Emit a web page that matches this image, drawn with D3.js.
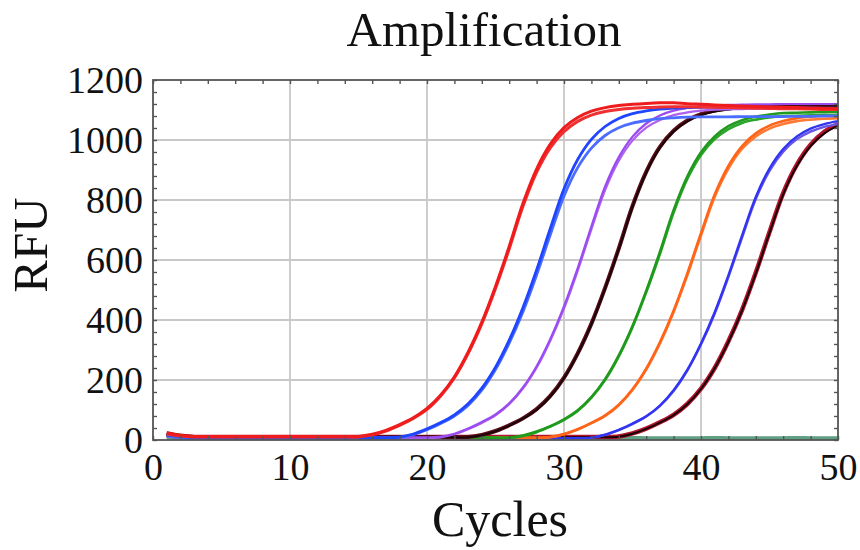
<!DOCTYPE html>
<html lang="en">
<head>
<meta charset="utf-8">
<title>Amplification</title>
<script src="https://cdn.jsdelivr.net/npm/d3@7"></script>
<style>
  body { margin: 0; background: #fff; }
  text { font-family: "Liberation Serif", "Times New Roman", serif; fill: #111; }
</style>
</head>
<body>
<script>
// cycle numbers
var cycles = [1,2,3,4,5,6,7,8,9,10,11,12,13,14,15,16,17,18,19,20,21,22,23,24,25,
  26,27,28,29,30,31,32,33,34,35,36,37,38,39,40,41,42,43,44,45,46,47,48,49,50];

// RFU per cycle (two replicates per dilution)
var red1 = [24,15,12,12,12,12,12,12,12,12,12,12,12,12,12,19,32,51,74,105,150,211,293,393,512,
  645,788,903,986,1041,1075,1096,1108,1115,1119,1122,1124,1124,1121,1119,1117,1115,1113,1112,1110,1109,1108,1107,1106,1105];
var red2 = [20,13,10,10,10,10,10,10,10,10,10,10,10,10,10,17,30,49,72,102,147,207,288,387,505,
  637,778,892,974,1028,1062,1083,1095,1102,1106,1108,1110,1111,1111,1110,1109,1108,1107,1106,1105,1104,1104,1103,1102,1102];
var blue1 = [18,11,8,8,8,8,8,8,8,8,8,8,8,8,8,8,8,10,20,37,58,84,121,173,243,
  333,441,567,705,837,935,1002,1045,1072,1088,1097,1103,1106,1108,1109,1110,1110,1109,1109,1108,1108,1107,1107,1106,1106];
var blue2 = [14,8,6,6,6,6,6,6,6,6,6,6,6,6,6,6,6,8,18,34,55,80,115,166,235,
  323,427,550,684,813,908,973,1015,1041,1056,1065,1071,1074,1076,1077,1077,1077,1078,1078,1078,1078,1079,1079,1080,1080];
var purple1 = [19,12,9,9,9,9,9,9,9,9,9,9,9,9,9,9,9,9,9,9,11,21,38,60,85,
  122,175,246,337,446,573,712,845,943,1011,1055,1082,1098,1107,1113,1116,1117,1118,1119,1119,1120,1120,1120,1120,1120];
var purple2 = [15,9,7,7,7,7,7,7,7,7,7,7,7,7,7,7,7,7,7,7,9,19,36,57,82,
  119,171,241,331,438,564,702,833,931,998,1041,1067,1083,1092,1098,1101,1102,1103,1104,1104,1104,1104,1104,1104,1104];
var maroon1 = [20,13,10,10,10,10,10,10,10,10,10,10,10,10,10,10,10,10,10,10,10,10,10,17,30,
  49,72,103,147,208,289,388,507,639,780,894,977,1031,1065,1086,1098,1105,1109,1111,1112,1113,1114,1114,1115,1115];
var black1 = [17,11,9,9,9,9,9,9,9,9,9,9,9,9,9,9,9,9,9,9,9,9,9,16,29,
  48,71,101,145,206,287,386,505,636,777,891,974,1028,1062,1083,1095,1102,1106,1108,1109,1110,1111,1111,1112,1112];
var green1 = [16,10,8,8,8,8,8,8,8,8,8,8,8,8,8,8,8,8,8,8,8,8,8,8,8,
  8,15,28,46,69,99,143,203,282,380,497,627,766,878,959,1012,1046,1066,1078,1085,1090,1091,1092,1093,1094];
var green2 = [14,9,7,7,7,7,7,7,7,7,7,7,7,7,7,7,7,7,7,7,7,7,7,7,7,
  7,13,26,45,67,97,141,200,279,376,492,620,758,870,950,1003,1036,1057,1068,1075,1080,1081,1082,1083,1084];
var orange1 = [16,10,8,8,8,8,8,8,8,8,8,8,8,8,8,8,8,8,8,8,8,8,8,8,8,
  8,8,8,10,20,36,57,82,118,169,238,326,431,555,689,818,914,980,1022,1048,1063,1073,1078,1081,1083];
var orange2 = [13,9,7,7,7,7,7,7,7,7,7,7,7,7,7,7,7,7,7,7,7,7,7,7,7,
  7,7,7,9,19,35,56,80,116,167,235,322,427,549,682,811,905,971,1012,1038,1053,1063,1068,1071,1073];
var blue3 = [13,8,6,6,6,6,6,6,6,6,6,6,6,6,6,6,6,6,6,6,6,6,6,6,6,
  6,6,6,6,6,6,8,18,34,55,79,115,166,234,322,426,549,682,810,905,970,1012,1038,1053,1063];
var blue4 = [12,7,5,5,5,5,5,5,5,5,5,5,5,5,5,5,5,5,5,5,5,5,5,5,5,
  5,5,5,5,5,5,7,17,33,53,78,113,163,231,318,421,543,675,803,897,961,1003,1028,1044,1053];
var maroon2 = [22,14,10,10,10,10,10,10,10,10,10,10,10,10,10,10,10,10,10,10,10,10,10,10,10,
  10,10,10,10,10,10,10,10,12,22,38,59,84,120,171,240,329,434,558,693,823,918,984,1027,1053];
var black2 = [19,12,9,9,9,9,9,9,9,9,9,9,9,9,9,9,9,9,9,9,9,9,9,9,9,
  9,9,9,9,9,9,9,9,11,21,37,58,83,119,170,239,327,432,555,690,819,914,980,1022,1048];
var ntc = [6,5,5,6,5,5,5,6,5,5,5,5,6,5,5,5,5,6,5,5,5,5,5,6,5,
  5,5,5,6,5,5,5,5,5,6,5,5,5,5,5,6,5,5,5,5,5,6,5,5,5];

var xTicks = [0,10,20,30,40,50];
var yTicks = [0,200,400,600,800,1000,1200];

// drawing order and styles (first drawn = bottom)
var series = [
  { values: ntc,     color: "#5f9f82", width: 4.5 },
  { values: maroon2, color: "#b3142c", width: 4.5 },
  { values: black2,  color: "#1a0306", width: 2 },
  { values: blue4,   color: "#6a55e6", width: 2.4 },
  { values: blue3,   color: "#2f35f0", width: 2.4 },
  { values: orange2, color: "#ff7a35", width: 2.6 },
  { values: orange1, color: "#ff6418", width: 2.6 },
  { values: green2,  color: "#2aa52a", width: 2.6 },
  { values: green1,  color: "#1f9a1c", width: 2.6 },
  { values: maroon1, color: "#5a0c18", width: 4 },
  { values: black1,  color: "#1c0508", width: 2 },
  { values: purple2, color: "#b060f0", width: 2.2 },
  { values: purple1, color: "#9a4cf0", width: 2.2 },
  { values: blue2,   color: "#4a6cff", width: 2.8 },
  { values: blue1,   color: "#1f45ff", width: 2.8 },
  { values: red2,    color: "#f03030", width: 3 },
  { values: red1,    color: "#ee1c1c", width: 3 }
];

var w = 860, h = 550;
var pLeft = 153, pRight = 838, pTop = 80, pBottom = 440;

var svg = d3.select("body").append("svg")
  .attr("width", w)
  .attr("height", h);

var x = d3.scaleLinear().domain([0, 50]).range([pLeft, pRight]);
var y = d3.scaleLinear().domain([0, 1200]).range([pBottom, pTop]);

// grid
svg.append("g")
  .selectAll("line")
  .data(xTicks.slice(1, -1))
  .enter().append("line")
  .attr("x1", function(d) { return x(d); })
  .attr("x2", function(d) { return x(d); })
  .attr("y1", pTop).attr("y2", pBottom)
  .style("stroke", "#c8c8c8").style("stroke-width", 1.8);
svg.append("g")
  .selectAll("line")
  .data(yTicks.slice(1, -1))
  .enter().append("line")
  .attr("y1", function(d) { return y(d); })
  .attr("y2", function(d) { return y(d); })
  .attr("x1", pLeft).attr("x2", pRight)
  .style("stroke", "#c8c8c8").style("stroke-width", 1.8);

// curves
svg.append("clipPath").attr("id", "plot")
  .append("rect").attr("x", pLeft).attr("y", pTop)
  .attr("width", pRight - pLeft).attr("height", pBottom - pTop);

var line = d3.line()
  .x(function(d, i) { return x(cycles[i]); })
  .y(function(d) { return y(d); })
  .curve(d3.curveCatmullRom.alpha(0.5));

svg.append("g").attr("clip-path", "url(#plot)")
  .selectAll("path")
  .data(series)
  .enter().append("path")
  .attr("d", function(d) { return line(d.values); })
  .style("fill", "none")
  .style("stroke", function(d) { return d.color; })
  .style("stroke-width", function(d) { return d.width; })
  .style("stroke-linejoin", "round");

// inward ticks on all four sides
var xMinor = d3.range(0, 51, 2);
var yMinor = d3.range(0, 1201, 40);
function tickStyle(g) {
  g.select(".domain").remove();
  g.selectAll("line").style("stroke", "#555").style("stroke-width", 1.4);
  g.selectAll("text").remove();
}
svg.append("g").attr("transform", "translate(0," + pBottom + ")")
  .call(d3.axisBottom(x).tickValues(xMinor).tickSize(-4)).call(tickStyle);
svg.append("g").attr("transform", "translate(0," + pTop + ")")
  .call(d3.axisTop(x).tickValues(xMinor).tickSize(-4)).call(tickStyle);
svg.append("g").attr("transform", "translate(" + pLeft + ",0)")
  .call(d3.axisLeft(y).tickValues(yMinor).tickSize(-4)).call(tickStyle);
svg.append("g").attr("transform", "translate(" + pRight + ",0)")
  .call(d3.axisRight(y).tickValues(yMinor).tickSize(-4)).call(tickStyle);

// frame
svg.append("rect")
  .attr("x", pLeft).attr("y", pTop)
  .attr("width", pRight - pLeft).attr("height", pBottom - pTop)
  .style("fill", "none").style("stroke", "#555").style("stroke-width", 1.8);

// tick labels
var xAxis = svg.append("g").attr("transform", "translate(0," + pBottom + ")")
  .call(d3.axisBottom(x).tickValues(xTicks).tickFormat(d3.format("d")).tickSize(0).tickPadding(13));
xAxis.select(".domain").remove();
xAxis.selectAll("text")
  .style("font-family", "'Liberation Serif', 'Times New Roman', serif")
  .style("font-size", "38px").style("fill", "#111")
  .attr("dy", "0.71em");

var yAxis = svg.append("g").attr("transform", "translate(" + pLeft + ",0)")
  .call(d3.axisLeft(y).tickValues(yTicks).tickFormat(d3.format("d")).tickSize(0).tickPadding(10));
yAxis.select(".domain").remove();
yAxis.selectAll("text")
  .style("font-family", "'Liberation Serif', 'Times New Roman', serif")
  .style("font-size", "38px").style("fill", "#111");

// titles
svg.append("text")
  .attr("x", 484).attr("y", 46)
  .attr("text-anchor", "middle")
  .style("font-size", "49px")
  .text("Amplification");

svg.append("text")
  .attr("x", 500).attr("y", 536)
  .attr("text-anchor", "middle")
  .style("font-size", "50px")
  .text("Cycles");

svg.append("text")
  .attr("transform", "translate(47,245) rotate(-90)")
  .attr("text-anchor", "middle")
  .style("font-size", "49px")
  .text("RFU");
</script>
</body>
</html>
